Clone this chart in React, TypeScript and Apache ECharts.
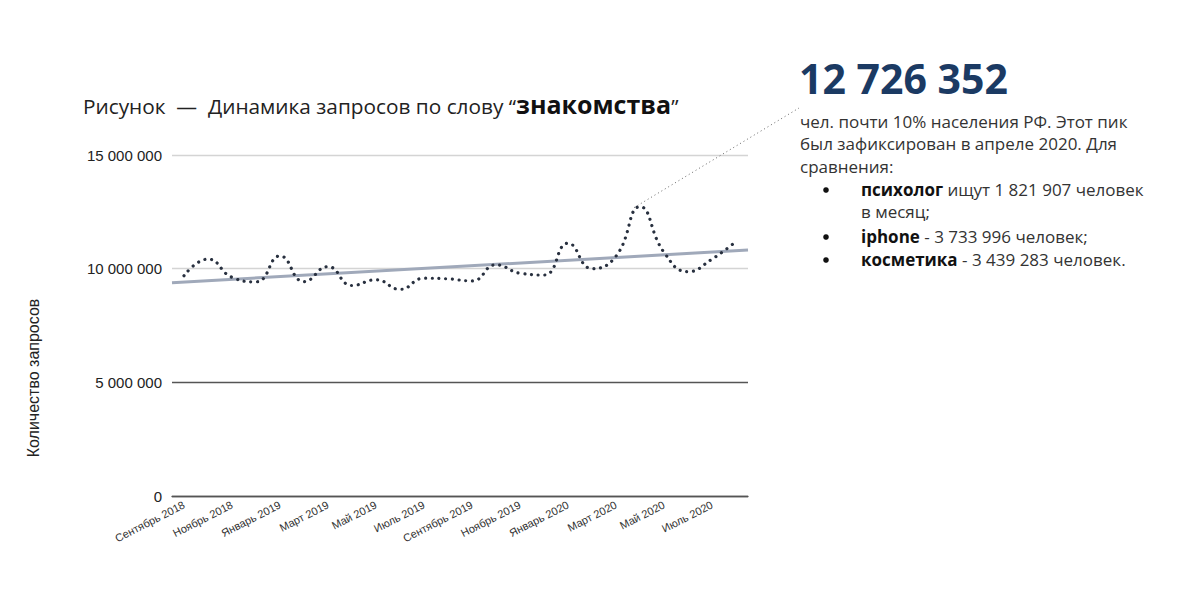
import React, { useEffect, useRef } from "react";
import * as echarts from "echarts";

const months = [
  "Сентябрь 2018", "Октябрь 2018", "Ноябрь 2018", "Декабрь 2018",
  "Январь 2019", "Февраль 2019", "Март 2019", "Апрель 2019",
  "Май 2019", "Июнь 2019", "Июль 2019", "Август 2019",
  "Сентябрь 2019", "Октябрь 2019", "Ноябрь 2019", "Декабрь 2019",
  "Январь 2020", "Февраль 2020", "Март 2020", "Апрель 2020",
  "Май 2020", "Июнь 2020", "Июль 2020", "Август 2020",
];

const queries = [
  9690000, 10420000, 9620000, 9420000,
  10560000, 9430000, 10090000, 9260000,
  9510000, 9090000, 9580000, 9550000,
  9460000, 10170000, 9800000, 9720000,
  11120000, 10000000, 10550000, 12726352,
  10720000, 9870000, 10420000, 11200000,
];

// linear trend: value at left edge and right edge of the plot
const trendValues = [9380000, 10820000];

const yMin = 0;
const yMax = 15000000;
const yStep = 5000000;

const peakIndex = 19;

const fmt = (v: number) => String(Math.round(v)).replace(/\B(?=(\d{3})+(?!\d))/g, " ");

export default function App() {
  const ref = useRef<HTMLDivElement>(null);

  useEffect(() => {
    if (!ref.current) return;
    const chart = echarts.init(ref.current, undefined, { renderer: "svg" });
    const textColor = "#333";
    const body = "'Open Sans', sans-serif";
    const arial = "'Liberation Sans', Arial, sans-serif";
    const option: any = {
      animation: false,
      backgroundColor: "#ffffff",
      grid: { left: 172, right: 432, top: 155, bottom: 104, containLabel: false },
      xAxis: [
        {
          type: "category",
          data: months,
          boundaryGap: true,
          axisTick: { show: false },
          axisLine: { show: true, lineStyle: { color: "#555", width: 1.3 } },
          axisLabel: {
            interval: 1,
            rotate: 27,
            fontSize: 11,
            color: "#333",
            fontFamily: arial,
            margin: 8,
          },
          splitLine: { show: false },
        },
        {
          type: "value",
          min: 0,
          max: 1,
          show: false,
        },
      ],
      yAxis: {
        type: "value",
        min: yMin,
        max: yMax,
        interval: yStep,
        axisLine: { show: false },
        axisTick: { show: false },
        axisLabel: {
          formatter: (v: number) => fmt(v),
          fontSize: 15,
          color: "#222",
          fontFamily: arial,
          margin: 10,
        },
        splitLine: {
          show: true,
          lineStyle: { color: ["#555", "#555", "#d4d4d4", "#d4d4d4"], width: 1.3 },
        },
      },
      series: [
        {
          name: "trend",
          type: "line",
          xAxisIndex: 1,
          data: trendValues.map((v, i) => [i, v]),
          showSymbol: false,
          symbol: "none",
          lineStyle: { color: "#a0a9ba", width: 3 },
          z: 2,
        },
        {
          name: "queries",
          type: "line",
          data: queries,
          smooth: 0.5,
          showSymbol: false,
          symbol: "none",
          lineStyle: { color: "#28303f", width: 3.2, type: [0.01, 6.7], cap: "round" },
          z: 3,
        },
      ],
      graphic: [
        {
          type: "text",
          left: 83,
          top: 91,
          style: {
            text: "{n|Рисунок  —  Динамика запросов по слову “}{b|знакомства}{n|”}",
            rich: {
              n: { fontFamily: body, fontSize: 20.8, fill: "#222", verticalAlign: "bottom" },
              b: { fontFamily: body, fontSize: 25, fontWeight: "bold", fill: "#111", verticalAlign: "bottom" },
            },
          },
        },
        {
          type: "text",
          x: 33,
          y: 378,
          rotation: Math.PI / 2,
          style: {
            text: "Количество запросов",
            fontFamily: arial,
            fontSize: 16,
            fill: "#222",
            align: "center",
            verticalAlign: "middle",
          },
        },
        {
          type: "text",
          x: 799,
          y: 78,
          style: {
            text: fmt(queries[peakIndex]),
            fontFamily: body,
            fontSize: 41,
            fontWeight: "bold",
            fill: "#1b3a63",
            align: "left",
            verticalAlign: "middle",
          },
        },
        ...[
          "чел. почти 10% населения РФ. Этот пик",
          "был зафиксирован в апреле 2020. Для",
          "сравнения:",
        ].map((t, i) => ({
          type: "text",
          x: 800,
          y: 121 + i * 22.5,
          style: {
            text: t,
            fontFamily: body,
            fontSize: 17,
            fill: textColor,
            align: "left",
            verticalAlign: "middle",
          },
        })),
        ...[
          { y: 189, t: "{b|психолог}{n| ищут 1 821 907 человек}", bullet: true },
          { y: 211.5, t: "{n|в месяц;}", bullet: false },
          { y: 236, t: "{b|iphone}{n| - 3 733 996 человек;}", bullet: true },
          { y: 259, t: "{b|косметика}{n| - 3 439 283 человек.}", bullet: true },
        ].flatMap((l) => {
          const items: any[] = [
            {
              type: "text",
              x: 861,
              y: l.y,
              style: {
                text: l.t,
                align: "left",
                verticalAlign: "middle",
                rich: {
                  n: { fontFamily: body, fontSize: 17, fill: textColor },
                  b: { fontFamily: body, fontSize: 17, fontWeight: "bold", fill: "#111" },
                },
              },
            },
          ];
          if (l.bullet) {
            items.push({
              type: "circle",
              shape: { cx: 826, cy: l.y + 1, r: 2.8 },
              style: { fill: "#111" },
            });
          }
          return items;
        }),
      ],
    };
    chart.setOption(option);

    const p = chart.convertToPixel({ xAxisIndex: 0, yAxisIndex: 0 }, [peakIndex, queries[peakIndex]]) as number[];
    if (p && isFinite(p[0])) {
      chart.setOption({
        graphic: [
          ...option.graphic,
          {
            type: "line",
            shape: { x1: p[0] - 6, y1: p[1] + 1, x2: 799, y2: 108 },
            style: { stroke: "#666", lineWidth: 1, lineDash: [1, 3] },
            z: 1,
          },
        ],
      });
    }

    return () => chart.dispose();
  }, []);

  return (
    <div
      ref={ref}
      style={{ position: "fixed", left: 0, top: 0, width: 1180, height: 600, background: "#fff" }}
    />
  );
}
